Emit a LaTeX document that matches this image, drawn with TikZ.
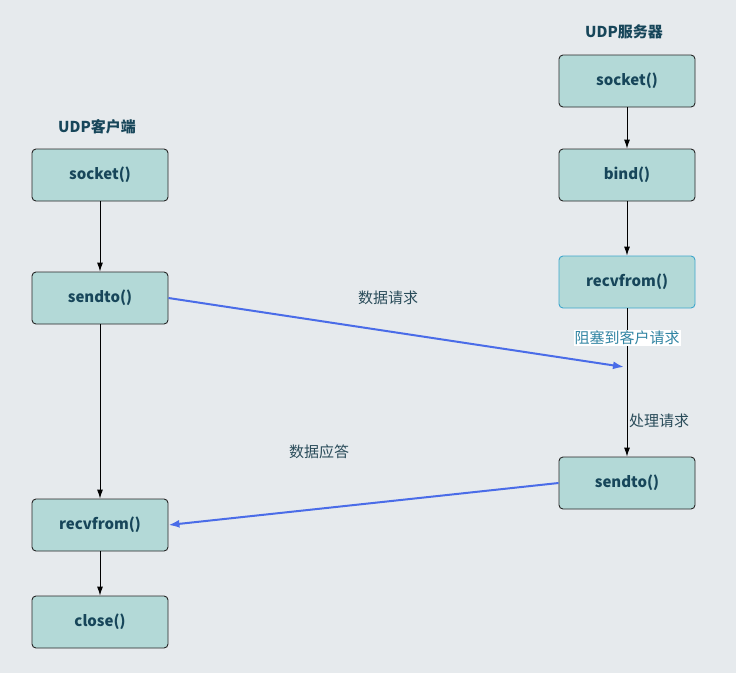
\documentclass[tikz,border=0pt]{standalone}
\usepackage{fontspec}
\setmainfont{Noto Sans CJK SC}
\usetikzlibrary{arrows.meta}
\definecolor{bgcol}{HTML}{E6EAED}
\definecolor{boxfill}{HTML}{B3D9D7}
\definecolor{boxtext}{HTML}{17465A}
\definecolor{labtext}{HTML}{2A4C5A}
\definecolor{reqblue}{HTML}{4A6CE8}
\definecolor{selblue}{HTML}{3EA6CC}
\begin{document}
\begin{tikzpicture}[x=1pt, y=-1pt, font=\fontsize{15}{17}\selectfont,
    func/.style={draw=black!85, line width=0.9pt, fill=boxfill, rounded corners=4pt, minimum width=136pt,
        minimum height=52pt, text=boxtext, font=\fontsize{15}{17}\selectfont\bfseries},
    title/.style={text=boxtext, font=\fontsize{15}{17}\selectfont\bfseries},
    lab/.style={text=labtext, inner sep=1pt},
    flow/.style={-{Latex[length=9pt,width=6pt]}, black, line width=0.9pt},
    msg/.style={-{Latex[length=11pt,width=8pt]}, reqblue, line width=2pt}]
    \fill[bgcol] (0,0) rectangle (736,673);
    \useasboundingbox (0,0) rectangle (736,673);

    \node[title] (cli) at (97,127) {UDP客户端};
    \node[title] (srv) at (624,32) {UDP服务器};

    \node[func] (csock) at (100,175) {socket()};
    \node[func] (csend) at (100,298) {sendto()};
    \node[func] (crecv) at (100,525) {recvfrom()};
    \node[func] (cclose) at (100,622) {close()};

    \node[func] (ssock) at (627,81) {socket()};
    \node[func] (sbind) at (627,175) {bind()};
    \node[func, draw=selblue] (srecv) at (627,282) {recvfrom()};
    \node[func] (ssend) at (627,483) {sendto()};

    \draw[flow] (csock) -- (csend);
    \draw[flow] (csend) -- (crecv);
    \draw[flow] (crecv) -- (cclose);
    \draw[flow] (ssock) -- (sbind);
    \draw[flow] (sbind) -- (srecv);
    \draw[flow] (srecv) -- (ssend);

    \node[lab, fill=white, text=selblue!80!black] (block) at (627,338) {阻塞到客户请求};
    \node[lab] (work) at (659,421) {处理请求};

    \coordinate (reqend) at (624,367);
    \draw[msg] (csend.east) -- (reqend);
    \draw[msg] (ssend.west) -- (crecv.east);

    \node[lab] (req) at (388,298) {数据请求};
    \node[lab] (resp) at (319,452) {数据应答};
\end{tikzpicture}
\end{document}
